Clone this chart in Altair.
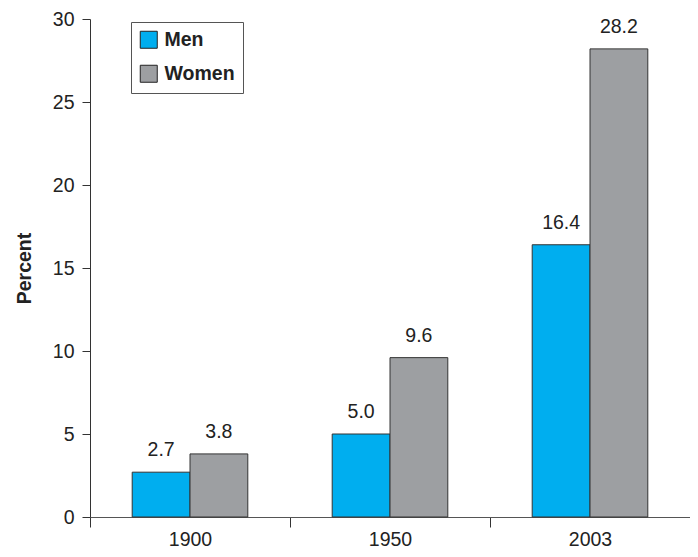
import altair as alt
import pandas as pd

years = ["1900", "1950", "2003"]
sexes = ["Men", "Women"]
men = [2.7, 5.0, 16.4]
women = [3.8, 9.6, 28.2]

rows = []
for i, y in enumerate(years):
    rows.append({"year": y, "sex": "Men", "pct": men[i], "label": f"{men[i]:.1f}"})
    rows.append({"year": y, "sex": "Women", "pct": women[i], "label": f"{women[i]:.1f}"})
df = pd.DataFrame(rows)

font = "Liberation Sans"
fs = 19.5

x = alt.X("year:N", sort=years,
          scale=alt.Scale(paddingInner=0, paddingOuter=0),
          axis=alt.Axis(title=None, labelAngle=0, labelFontSize=fs, labelFont=font,
                        labelColor="#222", tickBand="extent", tickSize=10,
                        domainColor="#555", tickColor="#333", labelPadding=3))
xo = alt.XOffset("sex:N", sort=sexes, scale=alt.Scale(paddingInner=0, paddingOuter=0.73))
y = alt.Y("pct:Q", scale=alt.Scale(domain=[0, 30]),
          axis=alt.Axis(title="Percent", values=[0, 5, 10, 15, 20, 25, 30], grid=False,
                        labelFontSize=fs, labelFont=font, labelColor="#222",
                        titleFont=font, titleFontSize=fs, titleFontWeight="bold",
                        titleColor="#222", titlePadding=18, tickSize=8,
                        domainColor="#333", tickColor="#333", labelPadding=8))

bars = alt.Chart(df).mark_bar(stroke="#333", strokeWidth=1).encode(
    x=x, xOffset=xo, y=y,
    color=alt.Color("sex:N", sort=sexes,
                    scale=alt.Scale(domain=sexes, range=["#00AEEF", "#9D9FA2"]),
                    legend=alt.Legend(title=None, orient="none", legendX=41, legendY=3,
                                      symbolType="square", symbolSize=289,
                                      symbolStrokeColor="#222", symbolStrokeWidth=1,
                                      labelFont=font, labelFontSize=fs, labelFontWeight="bold",
                                      labelColor="#222", rowPadding=12, padding=8,
                                      strokeColor="#555", labelOffset=6))
)

text = alt.Chart(df).mark_text(dy=-16, fontSize=fs, font=font, color="#222", baseline="alphabetic").encode(
    x=alt.X("year:N", sort=years), xOffset=alt.XOffset("sex:N", sort=sexes), y="pct:Q", text="label:N"
)

chart = (bars + text).properties(
    width=600, height=498,
    autosize=alt.AutoSizeParams(type="none"),
    padding={"left": 82, "top": 11, "right": 0, "bottom": 40},
).configure_view(stroke=None)

chart.save("out.html", embed_options={"renderer": "svg", "actions": False})
